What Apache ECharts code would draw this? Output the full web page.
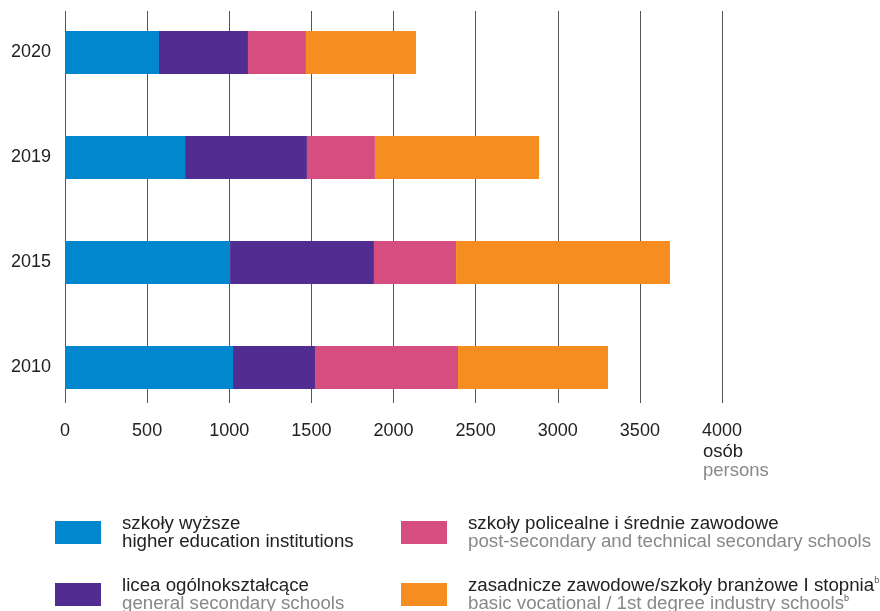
<!DOCTYPE html>
<html lang="pl">
<head>
    <meta charset="UTF-8">
    <title>Uczniowie i studenci</title>
    <script src="https://cdn.jsdelivr.net/npm/echarts@6/dist/echarts.min.js"></script>
    <style>
        html, body { margin: 0; padding: 0; background: #fff; }
    </style>
</head>
<body>
    <div id="main" style="width: 880px;height:611px;"></div>
    <script type="text/javascript">
        // dane (osoby)
        var years = ['2010', '2015', '2019', '2020'];
        var higher = [1023, 1005, 731, 572];
        var lyceum = [499, 876, 742, 542];
        var postSecondary = [871, 500, 414, 353];
        var vocational = [913, 1302, 999, 670];
        var xTicks = { min: 0, max: 4000, interval: 500 };

        var names = {
            higher: 'szkoły wyższe',
            lyceum: 'licea ogólnokształcące',
            post: 'szkoły policealne i średnie zawodowe',
            voc: 'zasadnicze zawodowe/szkoły branżowe I stopnia'
        };
        var english = {};
        english[names.higher] = 'higher education institutions';
        english[names.lyceum] = 'general secondary schools';
        english[names.post] = 'post-secondary and technical secondary schools';
        english[names.voc] = 'basic vocational / 1st degree industry schools';

        var font = '"Liberation Sans", Arial, sans-serif';

        var myChart = echarts.init(document.getElementById('main'));

        function legendLabel(name) {
            var sup = name === names.voc ? '{s|b}' : '';
            var en = name === names.higher ? '{a|' + english[name] + '}' : '{b|' + english[name] + '}';
            return '{a|' + name + '}' + sup + '\n' + en + sup;
        }

        var legendText = {
            fontFamily: font,
            padding: [0, 0, 0, 16],
            rich: {
                a: { fontSize: 18.7, color: '#222', lineHeight: 18, fontFamily: font },
                b: { fontSize: 18.7, color: '#888', lineHeight: 18, fontFamily: font },
                s: { fontSize: 9, color: '#555', lineHeight: 9, verticalAlign: 'top', fontFamily: font }
            }
        };

        // jedna legenda na pozycję, żeby ułożyć je w dwie kolumny
        function legend(name, left, top) {
            return {
                left: left, top: top, padding: 0,
                itemWidth: 46, itemHeight: 23,
                icon: 'rect', selectedMode: false,
                data: [name],
                formatter: legendLabel,
                textStyle: legendText
            };
        }

        function bar(name, data, color) {
            return {
                name: name, type: 'bar', stack: 'all',
                xAxisIndex: 1, yAxisIndex: 1,
                barWidth: 43, data: data,
                itemStyle: { color: color },
                emphasis: { disabled: true }
            };
        }

        var option = {
            animation: false,
            textStyle: { fontFamily: font },
            grid: [
                // siatka pionowa
                { left: 65, right: 158, top: 11, bottom: 208 },
                // słupki
                { left: 65, right: 158, top: -6.8, height: 426.7 }
            ],
            xAxis: [
                {
                    gridIndex: 0, type: 'value',
                    min: xTicks.min, max: xTicks.max, interval: xTicks.interval,
                    axisLine: { show: false }, axisTick: { show: false },
                    splitLine: { show: true, lineStyle: { color: '#555', width: 1 } },
                    axisLabel: {
                        fontSize: 18, color: '#222', margin: 19, fontFamily: font,
                        formatter: function (v) { return String(v); }
                    }
                },
                {
                    gridIndex: 1, type: 'value',
                    min: xTicks.min, max: xTicks.max,
                    show: false
                }
            ],
            yAxis: [
                { gridIndex: 0, type: 'value', show: false },
                {
                    gridIndex: 1, type: 'category', data: years,
                    axisLine: { show: false }, axisTick: { show: false },
                    axisLabel: { fontSize: 18, color: '#222', margin: 14, fontFamily: font }
                }
            ],
            legend: [
                legend(names.higher, 55, 514),
                legend(names.lyceum, 55, 576),
                legend(names.post, 401, 514),
                legend(names.voc, 401, 576)
            ],
            graphic: [
                { type: 'text', left: 703, top: 442, style: { text: 'osób', fontSize: 18.5, fill: '#222', fontFamily: font } },
                { type: 'text', left: 703, top: 461, style: { text: 'persons', fontSize: 18.5, fill: '#888', fontFamily: font } }
            ],
            series: [
                bar(names.higher, higher, '#0087CD'),
                bar(names.lyceum, lyceum, '#522D91'),
                bar(names.post, postSecondary, '#D64E80'),
                bar(names.voc, vocational, '#F58D20')
            ]
        };

        myChart.setOption(option);
    </script>
</body>
</html>
